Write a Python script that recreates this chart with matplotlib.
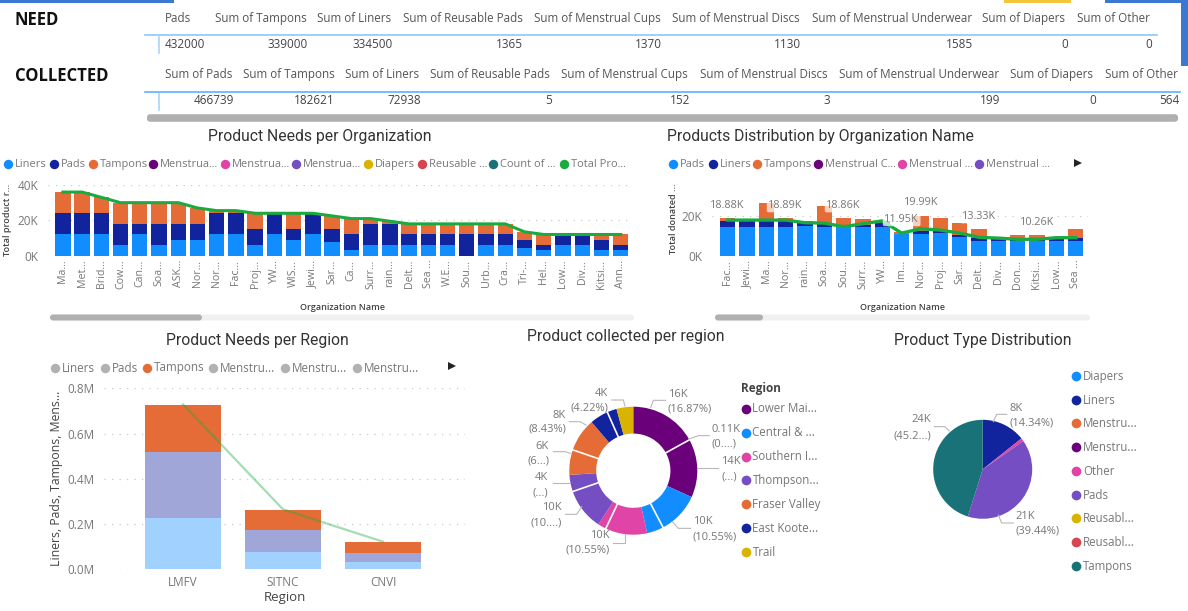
import math
import matplotlib
matplotlib.use('Agg')
import matplotlib.pyplot as plt
from matplotlib.patches import FancyBboxPatch, Rectangle

W, H = 1188, 611

# Power BI palette
BLUE = '#118DFF'
NAVY = '#12239E'
ORANGE = '#E66C37'
PURPLE = '#6B007B'
PINK = '#E044A7'
SLATE = '#744EC2'
GOLD = '#D9B300'
RED = '#D64550'
TEAL = '#197278'
GREEN = '#1AAB40'

# cards at the top
need_headers = ['Pads', 'Sum of Tampons', 'Sum of Liners', 'Sum of Reusable Pads', 'Sum of Menstrual Cups',
                'Sum of Menstrual Discs', 'Sum of Menstrual Underwear', 'Sum of Diapers', 'Sum of Other']
need_values = ['432000', '339000', '334500', '1365', '1370', '1130', '1585', '0', '0']
collected_headers = ['Sum of Pads', 'Sum of Tampons', 'Sum of Liners', 'Sum of Reusable Pads', 'Sum of Menstrual Cups',
                     'Sum of Menstrual Discs', 'Sum of Menstrual Underwear', 'Sum of Diapers', 'Sum of Other']
collected_values = ['466739', '182621', '72938', '5', '152', '3', '199', '0', '564']

# needs per organization (thousands)
org_names = ['Ma...', 'Met...', 'Brid...', 'Cow...', 'Can...', 'Soa...', 'ASK...', 'Nor...', 'Nor...', 'Fac...',
             'Proj...', 'YW...', 'WIS...', 'Jewi...', 'Sar...', 'Ca...', 'Surr...', 'rain...', 'Delt...', 'Sea ...',
             'W.E...', 'Sou...', 'Urb...', 'Cra...', 'Tri-...', 'Hel...', 'Low...', 'Div...', 'Kitsi...', 'Ann...']
org_liners = [12, 12, 12, 6, 12, 6, 9, 9, 12, 12, 6, 12, 9, 12, 7.5, 3, 6, 6, 6, 6, 6, 0, 6, 6, 4.5, 3, 6, 6, 3, 3]
org_pads = [12, 12, 12, 12, 6, 12, 9, 9, 12, 12, 9, 12, 6, 12, 7.5, 9, 12, 12, 6, 6, 6, 12, 6, 6, 4.5, 3, 6, 6, 6, 3]
org_tampons = [12, 12, 9, 12, 12, 12, 12, 9, 1.5, 1.5, 9, 0, 9, 0, 7.5, 9, 3, 1.5, 6, 6, 6, 6, 6, 6, 4.5, 6, 0, 0, 3, 6]
org_total = [36, 36, 33, 30, 30, 30, 30, 27, 25.5, 25.5, 24, 24, 24, 24, 22.5, 21, 21, 19.5, 18, 18,
             18, 18, 18, 18, 13.5, 12, 12, 12, 12, 12]

# collected per organization (thousands)
dist_names = ['Fac...', 'Jewi...', 'Ma...', 'Nor...', 'rain...', 'Soa...', 'Sou...', 'Surr...', 'YW...', 'Im...',
              'Nor...', 'Proj...', 'Sar...', 'Delt...', 'Div...', 'Don...', 'Kitsi...', 'Low...', 'Sea ...']
dist_pads = [14.5, 14.5, 14.5, 14.5, 15, 14.5, 14.5, 14.5, 14.5, 10.8, 11, 11.3, 9.2, 7.5, 7.5, 7.5, 7.5, 7.5, 7.5]
dist_liners = [2.8, 2.8, 2.8, 2.8, 1.5, 1.5, 0.3, 1, 2.8, 0.2, 1.5, 1, 1.1, 1.5, 1.1, 0.5, 0.5, 0.8, 1.3]
dist_tampons = [1.58, 0, 8.9, 1.59, 0.8, 8.8, 4.06, 2.8, 0.2, 0.95, 7.49, 6.7, 5.9, 4.33, 0.4, 2.26, 2.26, 0.7, 4.5]
dist_line = [17.8, 17.8, 17.8, 17.8, 16.5, 16.3, 14.5, 16, 17.4, 11.3, 13.5, 12.8, 11.3, 9.2, 8.8, 8.2, 8.2, 9, 9]
dist_label_idx = [0, 3, 6, 9, 10, 13, 16]
dist_label_val = [18.88, 18.89, 18.86, 11.95, 19.99, 13.33, 10.26]

# needs per region (millions)
regions = ['LMFV', 'SITNC', 'CNVI']
reg_liners = [0.225, 0.078, 0.031]
reg_pads = [0.293, 0.097, 0.041]
reg_tampons = [0.207, 0.089, 0.048]
reg_total = [0.729, 0.265, 0.122]

# donut (thousands)
donut_values = [16, 0.11, 14, 10, 4, 10, 2, 10, 4, 6, 8, 4.4, 2.3, 4]
donut_colors = [PURPLE, PURPLE, PURPLE, BLUE, BLUE, PINK, PINK, SLATE, SLATE, ORANGE, ORANGE, NAVY, NAVY, GOLD]
donut_legend = ['Lower Mai...', 'Central & ...', 'Southern I...', 'Thompson...', 'Fraser Valley', 'East Koote...', 'Trail']
donut_legend_colors = [PURPLE, BLUE, PINK, SLATE, ORANGE, NAVY, GOLD]

# pie (thousands)
pie_values = [7.6, 0.56, 21, 24]
pie_colors = [NAVY, PINK, SLATE, TEAL]
pie_legend = ['Diapers', 'Liners', 'Menstru...', 'Menstru...', 'Other', 'Pads', 'Reusabl...', 'Reusabl...', 'Tampons']
pie_legend_colors = [BLUE, NAVY, ORANGE, PURPLE, PINK, SLATE, GOLD, RED, TEAL]

BODY = 'Open Sans'
HEAD = 'Roboto'
GRAY = '#777777'
DARK = '#444444'

plt.rcParams['font.family'] = BODY
fig = plt.figure(figsize=(W / 100, H / 100), dpi=100, facecolor='white')


def px_axes(left, top, right, bottom):
    return fig.add_axes([left / W, 1 - bottom / H, (right - left) / W, (bottom - top) / H])


# page axes in pixels, for everything that is not a chart mark
page = fig.add_axes([0, 0, 1, 1], zorder=5)
page.set_xlim(0, W)
page.set_ylim(H, 0)
page.axis('off')
page.patch.set_alpha(0)


def put(x, y, s, size=8.5, color=GRAY, ha='left', **kw):
    page.text(x, y, s, fontsize=size, color=color, ha=ha, va='center', **kw)


def bar_rect(x0, y0, x1, y1, color):
    page.add_patch(Rectangle((x0, y0), x1 - x0, y1 - y0, facecolor=color, edgecolor='none'))


def scrollbar(x0, x1, thumb, y, track='#F0F0F0', h=6):
    for a, b, c in [(x0, x1, track), (x0, thumb, '#B0B0B0')]:
        page.add_patch(FancyBboxPatch((a + 3, y - h / 2 + 1), b - a - 6, h - 2,
                                      boxstyle='round,pad=1,rounding_size=3', facecolor=c, edgecolor='none'))


def legend_row(items, y, size=7.9, marker=6.8):
    for mx, s, c in items:
        page.plot([mx], [y], 'o', color=c, ms=marker, mew=0)
        put(mx + 7, y + 0.5, s, size=size)


def arrow(x, y):
    page.plot([x], [y], marker='>', color='#252423', ms=5.5, mew=0)


def callout(points, lines):
    page.plot([p[0] for p in points], [p[1] for p in points], color='#B8B8B8', lw=0.8)
    for x, y, s, ha in lines:
        put(x, y, s, size=8, ha=ha)


# frame bits at the top edge
bar_rect(0, 0, 174, 3, '#3A78D4')
bar_rect(1004, 0, 1071, 3, '#F5C63C')
bar_rect(1105, 0, 1188, 3, '#3A78D4')
bar_rect(1181, 0, 1188, 66, '#3A78D4')

# cards
put(15, 20, 'NEED', size=12, color='#111111', fontweight='bold')
put(15, 76, 'COLLECTED', size=12, color='#111111', fontweight='bold')

need_left = [165, 215, 317, 403, 534, 672, 812, 982, 1077]
need_right = [205, 308, 393, 523, 662, 801, 973, 1068, 1152]
coll_left = [165, 243, 345, 430, 561, 700, 839, 1010, 1105]
coll_right = [234, 335, 421, 552, 690, 830, 1000, 1096, 1179]
for s, x in zip(need_headers, need_left):
    put(x, 18.5, s, size=8.4, color='#555555')
for s, x in zip(need_values, need_right):
    put(x, 44, s, size=8.5, color='#444444', ha='right')
for s, x in zip(collected_headers, coll_left):
    put(x, 74.5, s, size=8.4, color='#555555')
for s, x in zip(collected_values, coll_right):
    put(x, 100, s, size=8.5, color='#444444', ha='right')
page.plot([145, 1157], [35, 35], color='#8CC6FF', lw=1.2)
page.plot([145, 1180], [92, 92], color='#5CB0FF', lw=1.2)
page.plot([159, 159], [37, 53], color='#A8D4FF', lw=1.2)
page.plot([159, 159], [94, 110], color='#A8D4FF', lw=1.2)
scrollbar(145, 1180, 1180, 118, track='#ABABAB', h=7)

# chart titles
for x, y, s in [(320, 137, 'Product Needs per Organization'), (820, 137, 'Products Distribution by Organization Name'),
                (257.5, 340, 'Product Needs per Region'), (626, 337, 'Product collected per region'),
                (983, 340, 'Product Type Distribution')]:
    put(x, y, s, size=11.3, color='#333333', ha='center', family=HEAD)


def style_axis(ax, yticks, ylabels, xlabels, size=8.5):
    ax.set_yticks(yticks)
    ax.set_yticklabels(ylabels, fontsize=size, color=GRAY)
    ax.set_xticks(range(len(xlabels)))
    ax.tick_params(length=0)
    for s in ax.spines.values():
        s.set_visible(False)
    ax.grid(axis='y', color='#C8C8C8', lw=0.9, linestyle=(0, (1, 5)))
    ax.set_axisbelow(True)
    ax.patch.set_alpha(0)


# Product Needs per Organization
ax1 = px_axes(48, 185, 633, 255.7)
x1 = list(range(len(org_names)))
b1 = [a + b for a, b in zip(org_liners, org_pads)]
ax1.bar(x1, org_liners, 0.8, color=BLUE)
ax1.bar(x1, org_pads, 0.8, bottom=org_liners, color=NAVY)
ax1.bar(x1, org_tampons, 0.8, bottom=b1, color=ORANGE)
ax1.plot(x1, org_total, color=GREEN, lw=2.2, clip_on=False)
ax1.set_xlim(-0.77, 29.64)
ax1.set_ylim(0, 40)
style_axis(ax1, [0, 20, 40], ['0K', '20K', '40K'], org_names)
ax1.set_xticklabels(org_names, rotation=90, fontsize=7.7, color=GRAY)
ax1.tick_params(axis='x', pad=3)
ax1.tick_params(axis='y', pad=7)
legend_row([(8, 'Liners', BLUE), (54, 'Pads', NAVY), (93, 'Tampons', ORANGE), (153, 'Menstrua...', PURPLE),
            (225, 'Menstrua...', PINK), (296, 'Menstrua...', SLATE), (368, 'Diapers', GOLD),
            (422, 'Reusable ...', RED), (493, 'Count of ...', TEAL), (564, 'Total Pro...', GREEN)], 164)
put(8, 220, 'Total product r...', size=6.5, color=DARK, ha='center', rotation=90, fontweight='semibold')
put(342, 308, 'Organization Name', size=6.5, color=DARK, ha='center', fontweight='semibold')
scrollbar(48, 636, 204, 317.5)

# Products Distribution by Organization Name
ax2 = px_axes(712, 175.7, 1088, 255.7)
x2 = list(range(len(dist_names)))
b2 = [a + b for a, b in zip(dist_pads, dist_liners)]
ax2.bar(x2, dist_pads, 0.78, color=BLUE)
ax2.bar(x2, dist_liners, 0.78, bottom=dist_pads, color=NAVY)
ax2.bar(x2, dist_tampons, 0.78, bottom=b2, color=ORANGE)
ax2.plot(x2, dist_line, color=GREEN, lw=2.4)
ax2.set_xlim(-0.81, 18.64)
ax2.set_ylim(0, 40)
style_axis(ax2, [0, 20], ['0K', '20K'], dist_names)
ax2.set_xticklabels(dist_names, rotation=90, fontsize=7.7, color=GRAY)
ax2.tick_params(axis='x', pad=3)
ax2.tick_params(axis='y', pad=7)
for i, v in zip(dist_label_idx, dist_label_val):
    ax2.annotate(f'{v:.2f}K', (i, v), xytext=(0, 9.2), textcoords='offset points', ha='center', va='center',
                 fontsize=7.8, color=GRAY,
                 bbox=dict(boxstyle='round,pad=0.15', facecolor='white', edgecolor='none', alpha=0.7))
legend_row([(673, 'Pads', BLUE), (713, 'Liners', NAVY), (757, 'Tampons', ORANGE), (818, 'Menstrual C...', PURPLE),
            (902, 'Menstrual ...', PINK), (979, 'Menstrual ...', SLATE)], 164)
arrow(1078, 163)
put(673, 219, 'Total donated ...', size=6.5, color=DARK, ha='center', rotation=90, fontweight='semibold')
put(902, 308, 'Organization Name', size=6.5, color=DARK, ha='center', fontweight='semibold')
scrollbar(713, 1092, 765, 317.5)

# Product Needs per Region
ax3 = px_axes(104, 388.3, 465, 569.3)
x3 = list(range(len(regions)))
b3 = [a + b for a, b in zip(reg_liners, reg_pads)]
ax3.bar(x3, reg_liners, 0.757, color='#A0D1FF')
ax3.bar(x3, reg_pads, 0.757, bottom=reg_liners, color='#A0A7D8')
ax3.bar(x3, reg_tampons, 0.757, bottom=b3, color=ORANGE)
ax3.plot(x3, reg_total, color=GREEN, lw=1.6, alpha=0.4)
ax3.set_xlim(-0.79, 2.82)
ax3.set_ylim(0, 0.8)
style_axis(ax3, [0, 0.2, 0.4, 0.6, 0.8], ['0.0M', '0.2M', '0.4M', '0.6M', '0.8M'], regions)
ax3.set_xticklabels(regions, fontsize=8.5, color=GRAY)
ax3.tick_params(axis='x', pad=5)
ax3.tick_params(axis='y', pad=7)
legend_row([(55, 'Liners', '#B3B0AD'), (105, 'Pads', '#B3B0AD'), (147, 'Tampons', ORANGE), (213, 'Menstru...', '#B3B0AD'),
            (285, 'Menstru...', '#B3B0AD'), (357, 'Menstru...', '#B3B0AD')], 367.5, size=8.4)
arrow(452, 366)
put(57, 478, 'Liners, Pads, Tampons, Mens...', size=8.8, color=DARK, ha='center', rotation=90)
put(285, 598, 'Region', size=9.5, color=DARK, ha='center')

# Product collected per region
ax4 = px_axes(569.3, 406.7, 697.3, 534.7)
ax4.pie(donut_values, colors=donut_colors, startangle=90, counterclock=False, radius=1,
        wedgeprops=dict(width=0.42, linewidth=0))
# white gap only shows where two slices of one colour meet
cum = 0
for i in range(len(donut_values) - 1):
    cum += donut_values[i]
    if donut_colors[i] == donut_colors[i + 1] and donut_values[i + 1] > 1:
        ang = math.radians(90 - 360 * cum / sum(donut_values))
        ax4.plot([0.56 * math.cos(ang), 1.02 * math.cos(ang)], [0.56 * math.sin(ang), 1.02 * math.sin(ang)],
                 color='white', lw=1.2)
ax4.set_xlim(-1, 1)
ax4.set_ylim(-1, 1)


def dz(zx, zy):
    # zoomed donut coordinates to page pixels
    return (500 + zx / 3, 325 + zy / 3)


def donut_callout(points, lines):
    callout([dz(*p) for p in points], [(*dz(a, b), s, ha) for a, b, s, ha in lines])


donut_callout([(452, 248), (460, 226), (497, 226)], [(503, 208, '16K', 'left'), (503, 252, '(16.87%)', 'left')])
donut_callout([(567, 342), (595, 332), (628, 332)], [(635, 312, '0.11K', 'left'), (635, 358, '(0....)', 'left')])
donut_callout([(592, 430), (655, 430)], [(663, 408, '14K', 'left'), (663, 455, '(...)', 'left')])
donut_callout([(517, 590), (535, 610), (572, 610)], [(578, 590, '10K', 'left'), (578, 636, '(10.55%)', 'left')])
donut_callout([(375, 628), (375, 653), (340, 653)], [(330, 632, '10K', 'right'), (330, 676, '(10.55%)', 'right')])
donut_callout([(245, 545), (230, 568), (197, 568)], [(185, 547, '10K', 'right'), (185, 593, '(10....)', 'right')])
donut_callout([(210, 475), (195, 475), (160, 475)], [(145, 457, '4K', 'right'), (145, 503, '(...)', 'right')])
donut_callout([(212, 385), (195, 380), (160, 380)], [(147, 364, '6K', 'right'), (147, 407, '(6...)', 'right')])
donut_callout([(258, 300), (240, 290), (208, 290)], [(198, 270, '8K', 'right'), (198, 313, '(8.43%)', 'right')])
donut_callout([(375, 243), (370, 225), (335, 225)], [(325, 205, '4K', 'right'), (325, 248, '(4.22%)', 'right')])

put(741, 388.5, 'Region', size=8.5, color=DARK, fontweight='bold')
for y, s, c in zip([408.5, 432.5, 456.5, 480, 504, 527.5, 551.5], donut_legend, donut_legend_colors):
    legend_row([(745.5, s, c)], y, size=8.3, marker=7)

# Product Type Distribution
ax5 = px_axes(933.2, 419.8, 1032.2, 518.8)
ax5.pie(pie_values, colors=pie_colors, startangle=90, counterclock=False, radius=1)
ax5.set_xlim(-1, 1)
ax5.set_ylim(-1, 1)


def pz(zx, zy):
    # zoomed pie coordinates to page pixels
    return (850 + zx / 3, 325 + zy / 3)


def pie_callout(points, lines):
    callout([pz(*p) for p in points], [(*pz(a, b), s, ha) for a, b, s, ha in lines])


pie_callout([(430, 290), (440, 268), (470, 268)], [(480, 250, '8K', 'left'), (480, 295, '(14.34%)', 'left')])
pie_callout([(445, 570), (455, 594), (490, 594)], [(497, 575, '21K', 'left'), (497, 618, '(39.44%)', 'left')])
pie_callout([(298, 318), (285, 305), (253, 305)], [(243, 285, '24K', 'right'), (243, 333, '(45.2...)', 'right')])

for y, s, c in zip([376, 399.7, 423.3, 447.3, 471, 495, 517.7, 541.7, 566.3], pie_legend, pie_legend_colors):
    legend_row([(1076.3, s, c)], y, size=8.3, marker=7)

fig.savefig('out.png', dpi=100)
